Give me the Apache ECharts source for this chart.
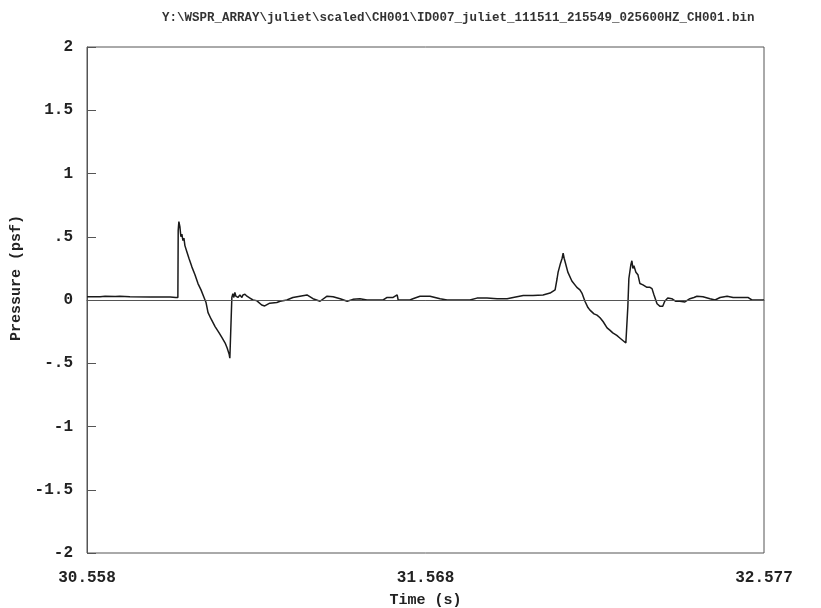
<!DOCTYPE html>
<html>
<head>
<meta charset="utf-8">
<script src="https://cdn.jsdelivr.net/npm/echarts@6/dist/echarts.min.js"></script>
<style>
  html, body { margin: 0; padding: 0; background: #fff; }
  #chart { width: 821px; height: 608px; }
</style>
</head>
<body>
<div id="chart"></div>
<script>
// 文件名标题
const titleText = "Y:\\WSPR_ARRAY\\juliet\\scaled\\CH001\\ID007_juliet_111511_215549_025600HZ_CH001.bin";

// 时间 (s)
const timeValues = [
  30.558, 30.597, 30.612, 30.642, 30.656, 30.686, 30.746, 30.806, 30.823, 30.829,
  30.830, 30.832, 30.835, 30.838, 30.841, 30.844, 30.847, 30.850, 30.856, 30.862,
  30.871, 30.880, 30.889, 30.898, 30.907, 30.913, 30.919, 30.928, 30.940, 30.952,
  30.961, 30.970, 30.976, 30.982, 30.984, 30.989, 30.990, 30.993, 30.996, 30.999,
  31.002, 31.005, 31.008, 31.014, 31.020, 31.023, 31.029, 31.035, 31.044, 31.053,
  31.064, 31.079, 31.088, 31.103, 31.124, 31.134, 31.154, 31.172, 31.193, 31.214,
  31.232, 31.253, 31.274, 31.292, 31.313, 31.334, 31.351, 31.372, 31.393, 31.411,
  31.441, 31.453, 31.471, 31.483, 31.486, 31.506, 31.521, 31.530, 31.551, 31.581,
  31.611, 31.632, 31.671, 31.700, 31.721, 31.751, 31.781, 31.811, 31.829, 31.859,
  31.888, 31.918, 31.939, 31.954, 31.960, 31.963, 31.969, 31.975, 31.978, 31.981,
  31.984, 31.992, 32.004, 32.019, 32.028, 32.034, 32.043, 32.052, 32.058, 32.070,
  32.079, 32.088, 32.097, 32.109, 32.118, 32.126, 32.138, 32.147, 32.156, 32.165,
  32.168, 32.171, 32.174, 32.180, 32.183, 32.186, 32.189, 32.195, 32.201, 32.207,
  32.216, 32.228, 32.237, 32.243, 32.249, 32.258, 32.267, 32.275, 32.281, 32.290,
  32.302, 32.314, 32.326, 32.341, 32.356, 32.368, 32.377, 32.395, 32.416, 32.431,
  32.446, 32.467, 32.485, 32.505, 32.529, 32.541, 32.565, 32.577
];

// 压力 (psf)
const pressureValues = [
  0.025, 0.025, 0.030, 0.028, 0.030, 0.025, 0.024, 0.024, 0.020, 0.020,
  0.550, 0.620, 0.580, 0.500, 0.520, 0.470, 0.490, 0.430, 0.380, 0.330,
  0.260, 0.200, 0.130, 0.080, 0.020, -0.020, -0.100, -0.150, -0.210, -0.260,
  -0.300, -0.340, -0.380, -0.430, -0.460, -0.450, 0.020, 0.050, 0.020, 0.060,
  0.030, 0.040, 0.020, 0.040, 0.020, 0.040, 0.045, 0.030, 0.015, 0.000,
  -0.005, -0.040, -0.047, -0.025, -0.020, -0.010, 0.000, 0.020, 0.030, 0.040,
  0.010, -0.010, 0.030, 0.025, 0.010, -0.010, 0.005, 0.010, 0.000, 0.000,
  0.000, 0.020, 0.020, 0.040, 0.000, 0.000, 0.000, 0.010, 0.030, 0.030,
  0.010, 0.000, 0.000, 0.000, 0.015, 0.015, 0.010, 0.010, 0.020, 0.035,
  0.035, 0.040, 0.055, 0.080, 0.170, 0.220, 0.280, 0.330, 0.370, 0.330,
  0.300, 0.220, 0.150, 0.100, 0.080, 0.055, -0.010, -0.060, -0.080, -0.110,
  -0.120, -0.140, -0.170, -0.220, -0.240, -0.260, -0.280, -0.300, -0.320, -0.340,
  -0.330, -0.050, 0.170, 0.280, 0.310, 0.250, 0.270, 0.220, 0.200, 0.130,
  0.120, 0.100, 0.100, 0.090, 0.040, -0.030, -0.050, -0.050, -0.010, 0.015,
  0.010, -0.010, -0.010, -0.015, 0.010, 0.020, 0.030, 0.025, 0.010, 0.000,
  0.020, 0.030, 0.020, 0.020, 0.020, 0.000, 0.000, 0.000
];

// 刻度标签
const xTickValues = [30.558, 31.568, 32.577];
const yMin = -2;
const yMax = 2;
const yStep = 0.5;

const chart = echarts.init(document.getElementById("chart"));

const monoFont = "'Liberation Mono', 'DejaVu Sans Mono', monospace";

chart.setOption({
  animation: false,
  backgroundColor: "#fff",
  title: {
    text: titleText,
    left: 157,
    top: 6,
    textStyle: {
      fontFamily: monoFont,
      fontSize: 12.5,
      fontWeight: "bold",
      color: "#333",
    },
  },
  grid: {
    left: 87,
    right: 57,
    top: 47,
    bottom: 55,
    outerBoundsMode: "none",
    show: true,
    borderColor: "#555",
    borderWidth: 1,
  },
  xAxis: {
    type: "value",
    min: xTickValues[0],
    max: xTickValues[xTickValues.length - 1],
    name: "Time (s)",
    nameLocation: "middle",
    nameGap: 40,
    nameTextStyle: {
      fontFamily: monoFont,
      fontSize: 15,
      fontWeight: "bold",
      color: "#222",
    },
    axisLine: { show: true, lineStyle: { color: "#555" } },
    axisTick: { show: false },
    splitLine: { show: false },
    axisLabel: {
      customValues: xTickValues,
      formatter: (v) => v.toFixed(3),
      margin: 17,
      fontFamily: monoFont,
      fontSize: 16,
      fontWeight: "bold",
      color: "#222",
    },
  },
  yAxis: {
    type: "value",
    min: yMin,
    max: yMax,
    interval: yStep,
    name: "Pressure (psf)",
    nameLocation: "middle",
    nameGap: 60,
    nameRotate: 90,
    nameTextStyle: {
      fontFamily: monoFont,
      fontSize: 15,
      fontWeight: "bold",
      color: "#222",
      padding: [0, 0, 0, 44],
    },
    axisLine: { show: true, lineStyle: { color: "#555" } },
    axisTick: { show: true, inside: true, length: 9, lineStyle: { color: "#555" } },
    splitLine: { show: false },
    axisLabel: {
      margin: 14,
      fontFamily: monoFont,
      fontSize: 16,
      fontWeight: "bold",
      color: "#222",
      formatter: (v) => {
        if (v === 0) return "0";
        return String(v).replace("0.", ".");
      },
    },
  },
  series: [
    {
      type: "line",
      data: timeValues.map((t, i) => [t, pressureValues[i]]),
      showSymbol: false,
      symbol: "none",
      lineStyle: { color: "#1a1a1a", width: 1.5 },
      markLine: {
        silent: true,
        symbol: "none",
        label: { show: false },
        lineStyle: { color: "#555", width: 1, type: "solid" },
        data: [{ yAxis: 0 }],
      },
    },
  ],
});
</script>
</body>
</html>
